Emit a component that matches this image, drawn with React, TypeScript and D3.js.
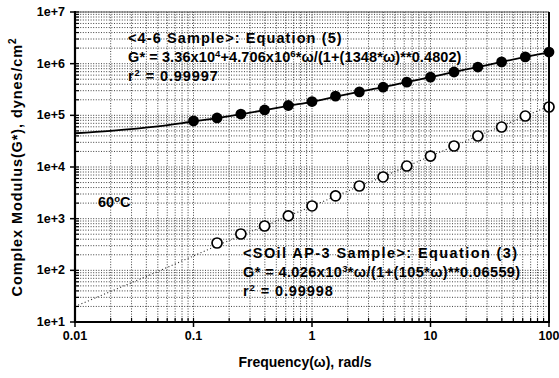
import React from "react";
import * as d3 from "d3";

// Filled circles: <4-6 Sample>
const freqA = [0.1, 0.158, 0.251, 0.398, 0.631, 1, 1.58, 2.51, 3.98, 6.31, 10, 15.8, 25.1, 39.8, 63.1, 100];
const gA = [7.8e4, 8.9e4, 1.06e5, 1.27e5, 1.55e5, 1.85e5, 2.35e5, 2.85e5, 3.5e5, 4.4e5, 5.5e5, 6.9e5, 8.6e5, 1.08e6, 1.35e6, 1.68e6];
// fitted curve for <4-6 Sample>
const fitFreqA = [0.01, 0.02, 0.05, 0.1, 0.158, 0.251, 0.398, 0.631, 1, 1.58, 2.51, 3.98, 6.31, 10, 15.8, 25.1, 39.8, 63.1, 100];
const fitGA = [4.5e4, 5.0e4, 6.1e4, 7.6e4, 8.8e4, 1.05e5, 1.26e5, 1.53e5, 1.83e5, 2.3e5, 2.85e5, 3.5e5, 4.4e5, 5.5e5, 6.9e5, 8.6e5, 1.08e6, 1.35e6, 1.66e6];

// Open circles: <SOil AP-3 Sample>
const freqB = [0.158, 0.251, 0.398, 0.631, 1, 1.58, 2.51, 3.98, 6.31, 10, 15.8, 25.1, 39.8, 63.1, 100];
const gB = [338, 505, 721, 1130, 1760, 2750, 4290, 6410, 10450, 16300, 25500, 39800, 59400, 97000, 145000];
const fitFreqB = [0.01, 0.02, 0.05, 0.1, 0.158, 0.251, 0.398, 0.631, 1, 1.58, 2.51, 3.98, 6.31, 10, 15.8, 25.1, 39.8, 63.1, 100];
const fitGB = [20, 39, 95, 190, 300, 470, 720, 1120, 1740, 2720, 4250, 6500, 10300, 16200, 25300, 39800, 62000, 97000, 150000];

const xTicks = [0.01, 0.1, 1, 10, 100];
const xTickLabels = ["0.01", "0.1", "1", "10", "100"];
const yTicks = [1e1, 1e2, 1e3, 1e4, 1e5, 1e6, 1e7];
const yTickLabels = ["1e+1", "1e+2", "1e+3", "1e+4", "1e+5", "1e+6", "1e+7"];

const W = 559, H = 378;
const L = 75, R = 549, T = 12, B = 322;
const FONT = "'Liberation Sans', Arial, sans-serif";

export default function App() {
  const x = d3.scaleLog().domain([0.01, 100]).range([L, R]);
  const y = d3.scaleLog().domain([10, 1e7]).range([B, T]);

  const minorX: number[] = [];
  for (let e = -2; e < 2; e++) for (let m = 1; m < 10; m++) minorX.push(m * Math.pow(10, e));
  minorX.push(100);
  const minorY: number[] = [];
  for (let e = 1; e < 7; e++) for (let m = 1; m < 10; m++) minorY.push(m * Math.pow(10, e));
  minorY.push(1e7);

  const line = d3.line<[number, number]>().x(d => x(d[0])).y(d => y(d[1])).curve(d3.curveMonotoneX);
  const pathA = line(fitFreqA.map((f, i) => [f, fitGA[i]]) as [number, number][]) || "";
  const pathB = line(fitFreqB.map((f, i) => [f, fitGB[i]]) as [number, number][]) || "";

  const txt = { fontFamily: FONT, fontWeight: 700, fill: "#000" } as const;

  return (
    <svg width={W} height={H} style={{ position: "absolute", left: 0, top: 0, background: "#fff" }}>
      <rect x={0} y={0} width={W} height={H} fill="#fff" />
      {/* grid */}
      <g stroke="#111" strokeWidth={0.8} strokeDasharray="1 1.6">
        {minorX.map((v, i) => (
          <line key={"gx" + i} x1={x(v)} x2={x(v)} y1={T} y2={B} />
        ))}
        {minorY.map((v, i) => (
          <line key={"gy" + i} x1={L} x2={R} y1={y(v)} y2={y(v)} />
        ))}
      </g>
      {/* top border */}
      <line x1={L} x2={R} y1={T} y2={T} stroke="#555" strokeWidth={1} />
      {/* fit lines */}
      <path d={pathB} fill="none" stroke="#222" strokeWidth={1.1} strokeDasharray="1 2.5" />
      <path d={pathA} fill="none" stroke="#000" strokeWidth={1.8} />
      {/* markers */}
      {freqA.map((f, i) => (
        <circle key={"a" + i} cx={x(f)} cy={y(gA[i])} r={5.4} fill="#000" />
      ))}
      {freqB.map((f, i) => (
        <circle key={"b" + i} cx={x(f)} cy={y(gB[i])} r={5} fill="#fff" stroke="#000" strokeWidth={1.7} />
      ))}
      {/* axes */}
      <line x1={L} x2={L} y1={T - 1} y2={B + 1} stroke="#000" strokeWidth={2.2} />
      <line x1={L - 1} x2={R + 1} y1={B} y2={B} stroke="#000" strokeWidth={2.2} />
      <line x1={R} x2={R} y1={T} y2={B + 1} stroke="#000" strokeWidth={2} />
      {/* minor ticks */}
      {minorX.map((v, i) => (
        <line key={"tx" + i} x1={x(v)} x2={x(v)} y1={B} y2={B - 4} stroke="#000" strokeWidth={1.2} />
      ))}
      {minorY.map((v, i) => (
        <line key={"ty" + i} x1={L} x2={L + 4} y1={y(v)} y2={y(v)} stroke="#000" strokeWidth={1.2} />
      ))}
      {/* major ticks */}
      {xTicks.map((v, i) => (
        <line key={"mx" + i} x1={x(v)} x2={x(v)} y1={B} y2={B + 5} stroke="#000" strokeWidth={1.5} />
      ))}
      {yTicks.map((v, i) => (
        <line key={"my" + i} x1={L - 5} x2={L} y1={y(v)} y2={y(v)} stroke="#000" strokeWidth={1.5} />
      ))}
      {/* tick labels */}
      {xTicks.map((v, i) => (
        <text key={"lx" + i} x={x(v)} y={B + 18} textAnchor="middle" fontSize={12.5} {...txt}>
          {xTickLabels[i]}
        </text>
      ))}
      {yTicks.map((v, i) => (
        <text key={"ly" + i} x={L - 10} y={y(v) + 4} textAnchor="end" fontSize={12.5} {...txt}>
          {yTickLabels[i]}
        </text>
      ))}
      {/* axis titles */}
      <text x={305} y={367} textAnchor="middle" fontSize={14} {...txt}>
        Frequency(ω), rad/s
      </text>
      <text transform={`translate(22,${(T + B) / 2}) rotate(-90)`} textAnchor="middle" fontSize={14.5} letterSpacing={0.9} {...txt}>
        Complex Modulus(G*), dynes/cm
        <tspan fontSize={10} dy={-6}>2</tspan>
      </text>
      {/* annotations */}
      <g fontSize={14.5} {...txt}>
        <text x={128} y={43} letterSpacing={1.1}>&lt;4-6 Sample&gt;: Equation (5)</text>
        <text x={128} y={62} letterSpacing={0.1}>
          G* = 3.36x10<tspan fontSize={9.5} dy={-5}>4</tspan>
          <tspan dy={5}>+4.706x10</tspan>
          <tspan fontSize={9.5} dy={-5}>6</tspan>
          <tspan dy={5}>*ω/(1+(1348*ω)**0.4802)</tspan>
        </text>
        <text x={128} y={81} letterSpacing={0.9}>
          r<tspan fontSize={9.5} dy={-5}>2</tspan>
          <tspan dy={5}> = 0.99997</tspan>
        </text>
        <text x={98} y={207}>
          60<tspan fontSize={9.5} dy={-5}>o</tspan>
          <tspan dy={5}>C</tspan>
        </text>
        <text x={243} y={258} letterSpacing={1.4}>&lt;SOil AP-3 Sample&gt;: Equation (3)</text>
        <text x={243} y={277} letterSpacing={0.4}>
          G* = 4.026x10<tspan fontSize={9.5} dy={-5}>3</tspan>
          <tspan dy={5}>*ω/(1+(105*ω)**0.06559)</tspan>
        </text>
        <text x={243} y={296} letterSpacing={0.9}>
          r<tspan fontSize={9.5} dy={-5}>2</tspan>
          <tspan dy={5}> = 0.99998</tspan>
        </text>
      </g>
    </svg>
  );
}
